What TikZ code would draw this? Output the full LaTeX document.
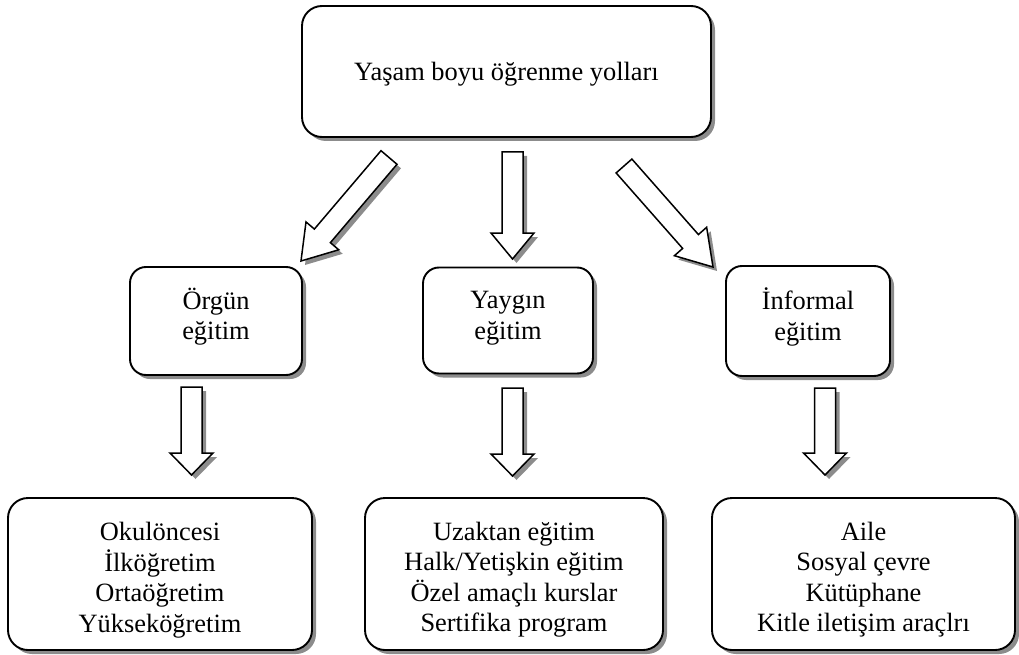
\documentclass[tikz,border=0pt]{standalone}
\usepackage{fontspec}
\setmainfont{Liberation Serif}
\usetikzlibrary{calc,shadows}
\tikzset{
  shadowed/.style={drop shadow={shadow xshift=4pt, shadow yshift=-4pt, fill=black!45, opacity=1}},
  box/.style={draw=black, line width=1.9pt, fill=white, rounded corners=#1, align=center,
    inner sep=0pt, font=\fontsize{26.4}{30.5}\selectfont, shadowed},
  box/.default=18pt,
  blockarrow/.style={draw=black, line width=1.5pt, fill=white, line join=miter, shadowed}
}
\newcommand\boxtext[2]{\raisebox{#1}[\height][\depth]{\begin{tabular}{@{}c@{}}#2\end{tabular}}}
\newcommand\blockarr[3]{%
  \coordinate (#1h) at ($(#2)!#3!(#1)$);
  \draw[blockarrow] ($(#1)!10.5pt!90:(#2)$) -- ($(#1h)!10.5pt!90:(#2)$)
    -- ($(#1h)!21.5pt!90:(#2)$) -- (#2) -- ($(#1h)!21.5pt!-90:(#2)$)
    -- ($(#1h)!10.5pt!-90:(#2)$) -- ($(#1)!10.5pt!-90:(#2)$) -- cycle;
}
\begin{document}
\begin{tikzpicture}[x=1pt,y=-1pt]
\useasboundingbox (0,0) rectangle (1019,655);
% boxes
\node[box=20pt, minimum width=409pt, minimum height=131pt] (top) at (506.5,71.5) {\boxtext{-3pt}{Yaşam boyu öğrenme yolları}};
\node[box=16pt, minimum width=172pt, minimum height=108pt] (orgun) at (216,321) {\boxtext{2.5pt}{Örgün\\eğitim}};
\node[box=16pt, minimum width=170pt, minimum height=106pt] (yaygin) at (508,320.5) {\boxtext{2.5pt}{Yaygın\\eğitim}};
\node[box=16pt, minimum width=164pt, minimum height=110pt] (inf) at (808,321) {\boxtext{2.5pt}{İnformal\\eğitim}};
\node[box=20pt, minimum width=304pt, minimum height=152pt] (b1) at (160,574) {\boxtext{-6pt}{Okulöncesi\\İlköğretim\\Ortaöğretim\\Yükseköğretim}};
\node[box=20pt, minimum width=298pt, minimum height=152pt] (b2) at (514,574) {\boxtext{-6pt}{Uzaktan eğitim\\Halk/Yetişkin eğitim\\Özel amaçlı kurslar\\Sertifika program}};
\node[box=20pt, minimum width=303pt, minimum height=152pt] (b3) at (863.5,574) {\boxtext{-6pt}{Aile\\Sosyal çevre\\Kütüphane\\Kitle iletişim araçlrı}};
% arrow end points
\coordinate (a1s) at (389,157.5); \coordinate (a1e) at (301,261);
\coordinate (a2s) at (512.5,152); \coordinate (a2e) at (512.5,259);
\coordinate (a3s) at (624,166);   \coordinate (a3e) at (713,267);
\coordinate (a4s) at (191.5,387); \coordinate (a4e) at (191.5,475);
\coordinate (a5s) at (512.5,388); \coordinate (a5e) at (512.5,476);
\coordinate (a6s) at (825,388);   \coordinate (a6e) at (825,475);
\blockarr{a1s}{a1e}{33pt}
\blockarr{a2s}{a2e}{26pt}
\blockarr{a3s}{a3e}{34pt}
\blockarr{a4s}{a4e}{22pt}
\blockarr{a5s}{a5e}{22pt}
\blockarr{a6s}{a6e}{22pt}
\end{tikzpicture}
\end{document}
